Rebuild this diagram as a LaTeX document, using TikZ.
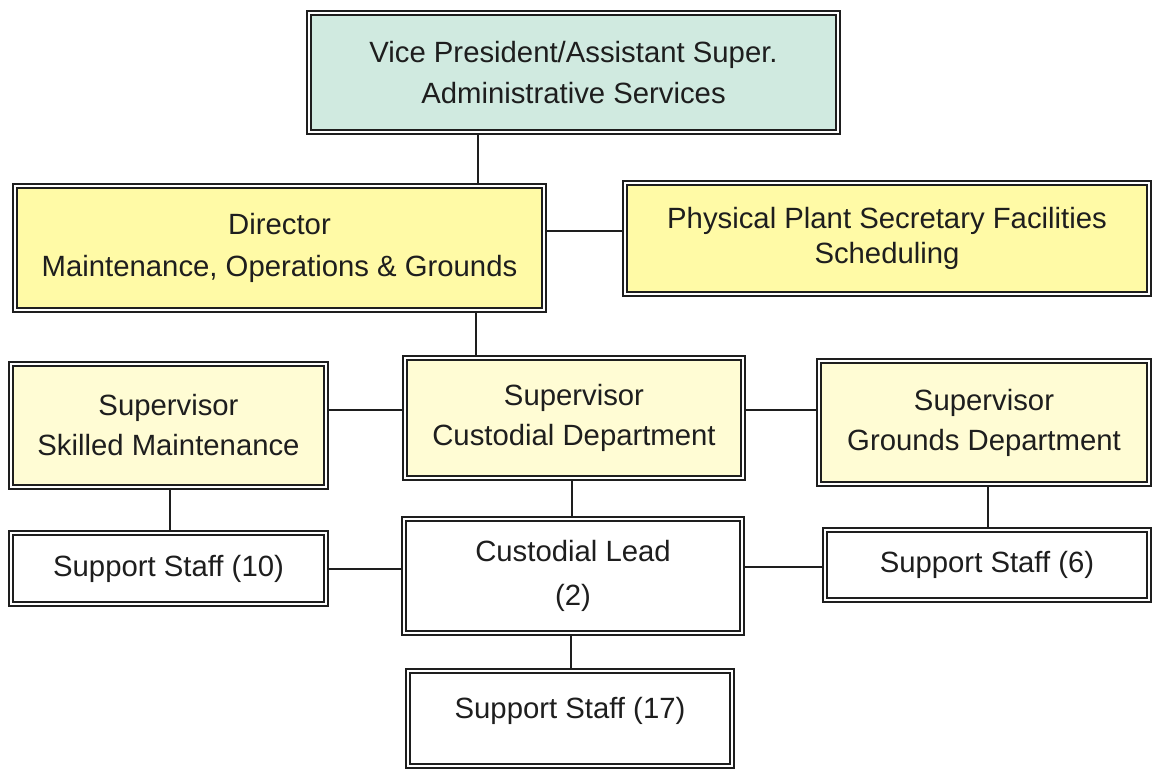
\documentclass[tikz,border=0pt]{standalone}
\usepackage{fontspec}
\setmainfont{Liberation Sans}
\definecolor{vpfill}{RGB}{208,234,224}
\definecolor{dirfill}{RGB}{255,250,166}
\definecolor{supfill}{RGB}{255,252,212}
\definecolor{ink}{RGB}{30,30,30}
\tikzset{
  box/.style={draw=ink, double=white, line width=1.8pt, double distance=2.6pt,
    rectangle, align=center, inner sep=0pt, outer sep=3.1pt, text=ink,
    font=\fontsize{29.3}{41}\selectfont},
  conn/.style={draw=ink, line width=1.6pt}
}
\begin{document}
\begin{tikzpicture}[x=1pt,y=-1pt]
\useasboundingbox (0,0) rectangle (1154,770);
% boxes: minimum sizes are outer size minus 6.2
\node[box, fill=vpfill, minimum width=529, minimum height=119] (vp) at (573.5,72.5)
  {Vice President/Assistant Super.\\Administrative Services};
\node[box, fill=dirfill, minimum width=529, minimum height=124, font=\fontsize{29.3}{42}\selectfont] (dir) at (279.5,248)
  {Director\\Maintenance, Operations \& Grounds};
\node[box, fill=dirfill, minimum width=524, minimum height=111, font=\fontsize{29.3}{35}\selectfont] (phys) at (887,238.5)
  {Physical Plant Secretary Facilities\\Scheduling};
\node[box, fill=supfill, minimum width=315, minimum height=123, font=\fontsize{29.3}{40}\selectfont] (skm) at (168.5,425.5)
  {Supervisor\\Skilled Maintenance};
\node[box, fill=supfill, minimum width=338, minimum height=120, font=\fontsize{29.3}{40}\selectfont] (cust) at (574,418)
  {Supervisor\\Custodial Department};
\node[box, fill=supfill, minimum width=330, minimum height=123, font=\fontsize{29.3}{40}\selectfont] (grd) at (984,422.5)
  {Supervisor\\Grounds Department};
\node[box, fill=white, minimum width=315, minimum height=71] (ss10) at (168.5,568.5)
  {Support Staff (10)};
\node[box, fill=white, minimum width=338, minimum height=114, font=\fontsize{29.3}{44}\selectfont] (lead) at (573,576)
  {Custodial Lead\\(2)};
\node[box, fill=white, minimum width=324, minimum height=70] (ss6) at (987,565)
  {Support Staff (6)};
\node[box, fill=white, minimum width=324, minimum height=95] (ss17) at (570,718.5) {};
\node[font=\fontsize{29.3}{41}\selectfont, text=ink, inner sep=0pt] (ss17t) at (570,711) {Support Staff (17)};
% connectors
\draw[conn] (478,0 |- vp.south) -- (478,0 |- dir.north);
\draw[conn] (dir.east |- 0,231) -- (phys.west |- 0,231);
\draw[conn] (476,0 |- dir.south) -- (476,0 |- cust.north);
\draw[conn] (skm.east |- 0,410) -- (cust.west |- 0,410);
\draw[conn] (cust.east |- 0,410) -- (grd.west |- 0,410);
\draw[conn] (170,0 |- skm.south) -- (170,0 |- ss10.north);
\draw[conn] (572,0 |- cust.south) -- (572,0 |- lead.north);
\draw[conn] (988,0 |- grd.south) -- (988,0 |- ss6.north);
\draw[conn] (ss10.east |- 0,569) -- (lead.west |- 0,569);
\draw[conn] (lead.east |- 0,567) -- (ss6.west |- 0,567);
\draw[conn] (571,0 |- lead.south) -- (571,0 |- ss17.north);
\end{tikzpicture}
\end{document}
